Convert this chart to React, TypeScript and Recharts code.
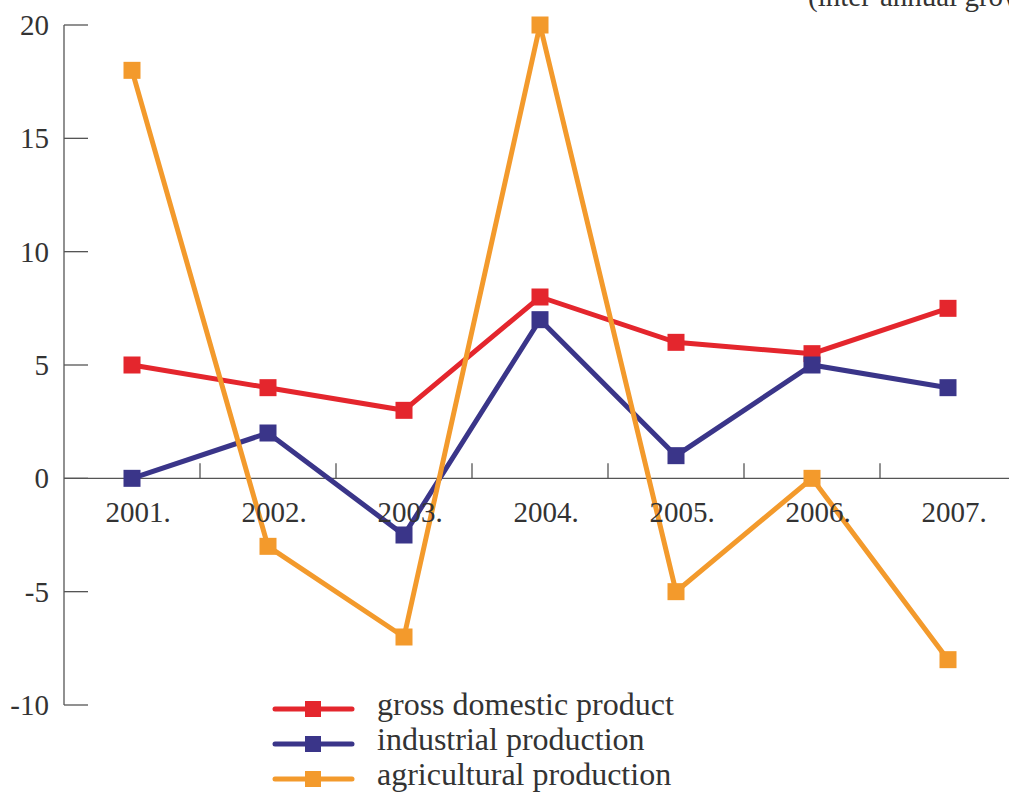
import React from 'react';
import { LineChart, Line, XAxis, YAxis, ReferenceLine } from 'recharts';

const CATEGORIES = ['2001.', '2002.', '2003.', '2004.', '2005.', '2006.', '2007.'];
const GDP = [5, 4, 3, 8, 6, 5.5, 7.5];
const INDUSTRIAL = [0, 2, -2.5, 7, 1, 5, 4];
const AGRICULTURAL = [18, -3, -7, 20, -5, 0, -8];
const Y_TICKS = [-10, -5, 0, 5, 10, 15, 20];
const BAND_TICKS = [1, 2, 3, 4, 5, 6];

const SERIES = [
  { key: 'gdp', name: 'gross domestic product', color: '#e4262d' },
  { key: 'ind', name: 'industrial production', color: '#3a3589' },
  { key: 'agr', name: 'agricultural production', color: '#f39a2c' },
];

const W = 1016;
const H = 792;
const TOP = 25;
const BOTTOM = 87;
const AXIS_H = 1;
const Y_MIN = -10;
const Y_MAX = 20;
const PLOT_H = H - TOP - BOTTOM;
const ZERO_Y = TOP + (PLOT_H * Y_MAX) / (Y_MAX - Y_MIN);
const FONT = "'Liberation Serif', 'Times New Roman', serif";
const INK = '#333333';
const AXIS = '#555555';

const data = CATEGORIES.map((c, i) => ({
  name: c,
  band: i,
  gdp: GDP[i],
  ind: INDUSTRIAL[i],
  agr: AGRICULTURAL[i],
}));

// square markers like the original
const squareDot = (color: string) => (props: any) => {
  const { cx, cy, index } = props;
  if (cx == null || cy == null) return <g key={index} />;
  return <rect key={index} x={cx - 8.5} y={cy - 8.5} width={17} height={17} fill={color} />;
};

const CategoryTick = (props: any) => {
  const { x, payload } = props;
  return (
    <text x={x + 6} y={ZERO_Y + 44} textAnchor="middle" fontFamily={FONT} fontSize={29} fill={INK}>
      {payload.value}
    </text>
  );
};

const BandTick = (props: any) => {
  const { x } = props;
  return <line x1={x} x2={x} y1={ZERO_Y - 15} y2={ZERO_Y} stroke={AXIS} strokeWidth={1.3} />;
};

const ValueTick = (props: any) => {
  const { y, payload } = props;
  return (
    <g>
      <line x1={64} x2={88} y1={y} y2={y} stroke={AXIS} strokeWidth={1.3} />
      <text x={49} y={y + 10} textAnchor="end" fontFamily={FONT} fontSize={29} fill={INK}>
        {payload.value}
      </text>
    </g>
  );
};

export default function App() {
  return (
    <div
      style={{
        position: 'absolute',
        left: 0,
        top: 0,
        width: 1009,
        height: H,
        overflow: 'hidden',
        background: '#ffffff',
      }}
    >
      <LineChart
        width={W}
        height={H}
        data={data}
        margin={{ top: TOP, right: 0, bottom: BOTTOM - 2 * AXIS_H, left: 0 }}
      >
        <XAxis
          dataKey="name"
          height={AXIS_H}
          padding={{ left: 68, right: 68 }}
          axisLine={false}
          tickLine={false}
          tickSize={0}
          tickMargin={0}
          tick={CategoryTick}
          interval={0}
        />
        <XAxis
          xAxisId="band"
          dataKey="band"
          type="number"
          domain={[0, 7]}
          ticks={BAND_TICKS}
          height={AXIS_H}
          axisLine={false}
          tickLine={false}
          tickSize={0}
          tick={BandTick}
          interval={0}
        />
        <YAxis
          width={64}
          domain={[Y_MIN, Y_MAX]}
          ticks={Y_TICKS}
          axisLine={{ stroke: AXIS, strokeWidth: 1.3 }}
          tickLine={false}
          tickSize={0}
          tickMargin={0}
          tick={ValueTick}
          interval={0}
        />
        <ReferenceLine y={0} stroke={AXIS} strokeWidth={1.3} />
        {SERIES.map((s) => (
          <Line
            key={s.key}
            dataKey={s.key}
            name={s.name}
            stroke={s.color}
            strokeWidth={5}
            dot={squareDot(s.color)}
            activeDot={false}
            isAnimationActive={false}
          />
        ))}
      </LineChart>
      <svg
        width={1009}
        height={H}
        style={{ position: 'absolute', left: 0, top: 0, pointerEvents: 'none' }}
      >
        <text x={808} y={6} fontFamily={FONT} fontSize={29} fill={INK}>
          (inter-annual growth rates, %)
        </text>
        {SERIES.map((s, i) => {
          const cy = 709 + i * 35;
          return (
            <g key={s.key}>
              <line x1={275} x2={352} y1={cy} y2={cy} stroke={s.color} strokeWidth={5} strokeLinecap="round" />
              <rect x={305} y={cy - 8} width={16} height={16} fill={s.color} />
              <text x={377} y={cy + 6} fontFamily={FONT} fontSize={32} fill={INK}>
                {s.name}
              </text>
            </g>
          );
        })}
      </svg>
    </div>
  );
}
